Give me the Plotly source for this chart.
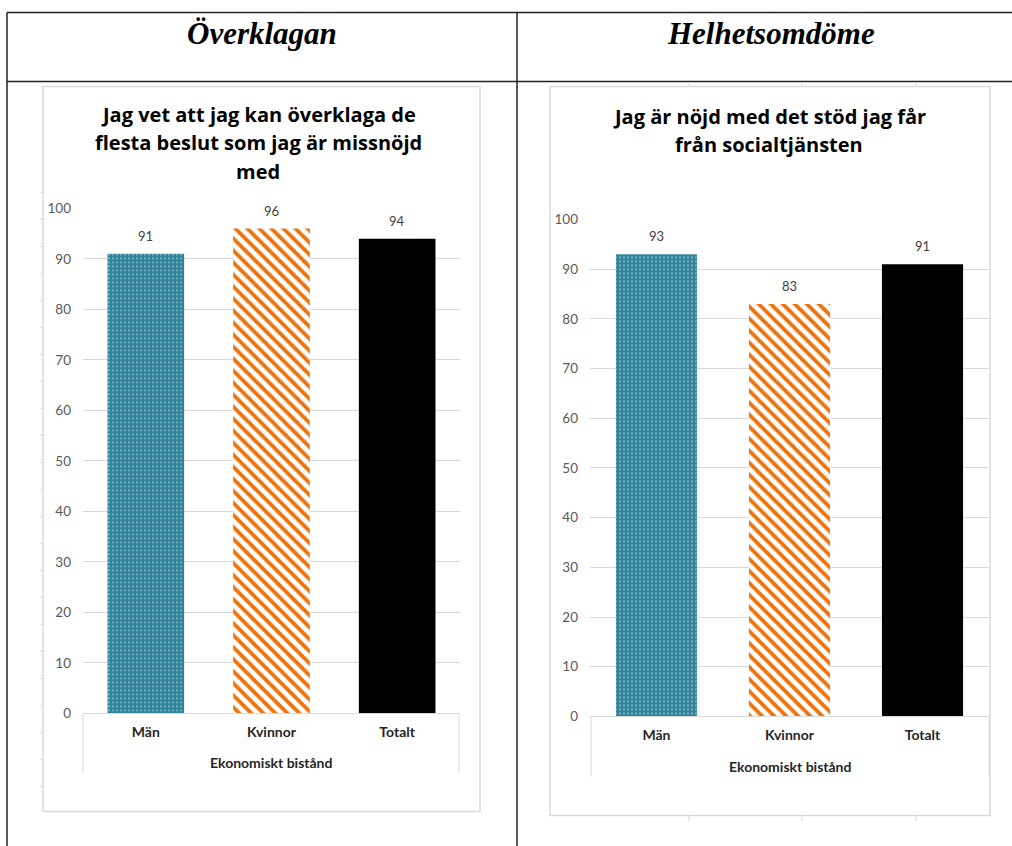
import plotly.graph_objects as go

# ---------------- data ----------------
categories = ["Män", "Kvinnor", "Totalt"]
overklagan_values = [91, 96, 94]
helhet_values = [93, 83, 91]
group_label = "Ekonomiskt bistånd"
header_left = "Överklagan"
header_right = "Helhetsomdöme"
title_left_lines = ["Jag vet att jag kan överklaga de", "flesta beslut som jag är missnöjd", "med"]
title_right_lines = ["Jag är nöjd med det stöd jag får", "från socialtjänsten"]
y_ticks = [0, 10, 20, 30, 40, 50, 60, 70, 80, 90, 100]

W, H = 1012, 846
TOP, H_EFF = 7.6, 830.0


def px(x):
    return x / W


def py(y):
    return 1 - (y - TOP) / H_EFF


TEAL = "#31849B"
ORANGE = "#EC740F"
FONT = "Lato"
TFONT = "Open Sans"

fig = go.Figure()


def add_bars(values, xa, ya):
    for cat, val in zip(categories, values):
        if cat == "Män":
            marker = dict(color=TEAL,
                          pattern=dict(shape=".", fgcolor="white", bgcolor=TEAL,
                                       fgopacity=0.85, size=4, solidity=0.1,
                                       fillmode="overlay"),
                          line=dict(width=0))
        elif cat == "Kvinnor":
            marker = dict(color="white",
                          pattern=dict(shape="\\", fgcolor=ORANGE, bgcolor="white",
                                       fgopacity=1, size=8.5, solidity=0.45,
                                       fillmode="overlay"),
                          line=dict(width=0))
        else:
            marker = dict(color="black", line=dict(width=0))
        fig.add_trace(go.Bar(x=[cat], y=[val], xaxis=xa, yaxis=ya, marker=marker,
                             width=0.61, showlegend=False, hoverinfo="skip"))
    for cat, val in zip(categories, values):
        fig.add_annotation(x=cat, y=val, xref=xa, yref=ya, text=str(val),
                           showarrow=False, yanchor="bottom", yshift=8,
                           font=dict(family=FONT, size=13, color="#404040"))


add_bars(overklagan_values, "x", "y")
add_bars(helhet_values, "x2", "y2")

axis_common_y = dict(range=[0, 100], tickvals=y_ticks, showgrid=True,
                     gridcolor="#D9D9D9", gridwidth=1, zeroline=False,
                     showline=False, ticks="", ticklabelstandoff=11,
                     tickfont=dict(family=FONT, size=13.5, color="#595959"),
                     fixedrange=True)
axis_common_x = dict(type="category", categoryorder="array", categoryarray=categories,
                     showline=True, linecolor="#D9D9D9", linewidth=1,
                     ticks="", showgrid=False, ticklabelstandoff=6,
                     tickfont=dict(family=FONT, size=14, color="#262626", weight="bold"),
                     fixedrange=True)

fig.update_layout(
    width=W, height=H, margin=dict(l=0, r=0, t=0, b=0),
    paper_bgcolor="white", plot_bgcolor="white",
    bargap=0.39, showlegend=False,
    xaxis=dict(domain=[px(83), px(460)], anchor="y", **axis_common_x),
    yaxis=dict(domain=[py(713), py(208)], anchor="x", **axis_common_y),
    xaxis2=dict(domain=[px(590), px(989)], anchor="y2", **axis_common_x),
    yaxis2=dict(domain=[py(716), py(219)], anchor="x2", **axis_common_y),
)

shapes = []
# Word table borders
tbl = dict(type="line", xref="paper", yref="paper", line=dict(color="#222222", width=1.5))
shapes.append(dict(tbl, x0=px(7), x1=px(1012), y0=py(12), y1=py(12)))
shapes.append(dict(tbl, x0=px(7), x1=px(1012), y0=py(81), y1=py(81)))
shapes.append(dict(tbl, x0=px(7), x1=px(7), y0=py(12), y1=py(846)))
shapes.append(dict(tbl, x0=px(517), x1=px(517), y0=py(12), y1=py(846)))

# chart area borders
ca = dict(type="rect", xref="paper", yref="paper", line=dict(color="#D9D9D9", width=1.5),
          fillcolor="rgba(0,0,0,0)", layer="below")
shapes.append(dict(ca, x0=px(43), x1=px(480), y0=py(86), y1=py(811)))
shapes.append(dict(ca, x0=px(550), x1=px(990), y0=py(86), y1=py(815)))

# multi-level category box sides
gl = dict(type="line", xref="paper", yref="paper", line=dict(color="#D9D9D9", width=1))
shapes.append(dict(gl, x0=px(83), x1=px(83), y0=py(713), y1=py(773)))
shapes.append(dict(gl, x0=px(459), x1=px(459), y0=py(713), y1=py(773)))
shapes.append(dict(gl, x0=px(591), x1=px(591), y0=py(716), y1=py(776)))
shapes.append(dict(gl, x0=px(989), x1=px(989), y0=py(716), y1=py(776)))

# faint ruler marks on left chart edge and below right chart
for yy in range(192, 812, 27):
    shapes.append(dict(gl, x0=px(40), x1=px(44), y0=py(yy), y1=py(yy)))
for xx in (689, 802, 916):
    shapes.append(dict(gl, x0=px(xx), x1=px(xx), y0=py(815), y1=py(821)))
    shapes.append(dict(gl, x0=px(xx), x1=px(xx), y0=py(82), y1=py(86)))

fig.update_layout(shapes=shapes)

# headers
hdr_font = dict(family="Liberation Serif", size=31, color="black", weight="bold", style="italic")
fig.add_annotation(x=px(262), y=py(33), xref="paper", yref="paper", text=header_left,
                   showarrow=False, font=hdr_font, xanchor="center", yanchor="middle")
fig.add_annotation(x=px(771), y=py(33), xref="paper", yref="paper", text=header_right,
                   showarrow=False, font=hdr_font, xanchor="center", yanchor="middle")

# chart titles
ttl_font = dict(family=TFONT, size=20, color="black", weight="bold")
for i, line in enumerate(title_left_lines):
    fig.add_annotation(x=px(258), y=py(114 + 28.5 * i), xref="paper", yref="paper",
                       text=line, showarrow=False, font=ttl_font,
                       xanchor="center", yanchor="middle")
for i, line in enumerate(title_right_lines):
    fig.add_annotation(x=px(769), y=py(116 + 28.5 * i), xref="paper", yref="paper",
                       text=line, showarrow=False, font=ttl_font,
                       xanchor="center", yanchor="middle")

# group labels
grp_font = dict(family=FONT, size=14, color="#262626", weight="bold")
fig.add_annotation(x=px(271), y=py(762), xref="paper", yref="paper", text=group_label,
                   showarrow=False, font=grp_font, xanchor="center", yanchor="middle")
fig.add_annotation(x=px(790), y=py(766), xref="paper", yref="paper", text=group_label,
                   showarrow=False, font=grp_font, xanchor="center", yanchor="middle")

fig.write_html("out.html")
